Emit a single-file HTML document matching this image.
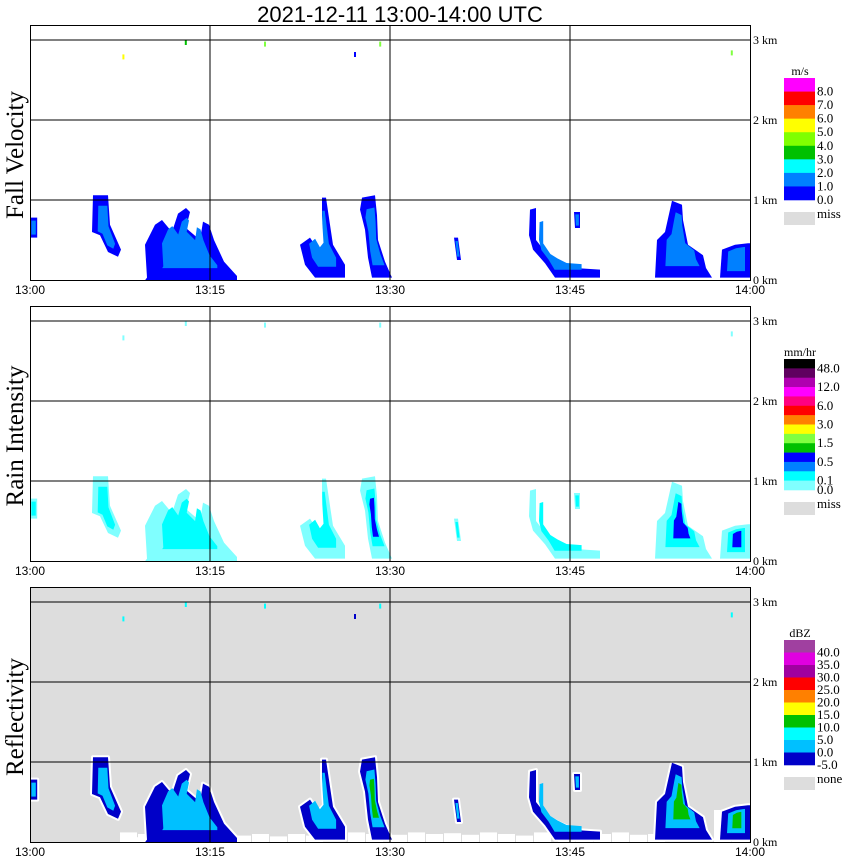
<!DOCTYPE html>
<html><head><meta charset="utf-8">
<style>
html,body{margin:0;padding:0;background:#fff;}
svg{display:block;}
.serif{font-family:"Liberation Serif",serif;}
.sans{font-family:"Liberation Sans",sans-serif;}
</style></head>
<body>
<svg id="chart" width="850" height="868" viewBox="0 0 850 868" xmlns="http://www.w3.org/2000/svg">
<text x="400" y="22" text-anchor="middle" class="sans" font-size="22">2021-12-11   13:00-14:00 UTC</text>
<g id="panels"></g>
</svg>
<script>
// ---- data (minutes after 13:00, height km) ----
const panelTitles = ["Fall Velocity", "Rain Intensity", "Reflectivity"];
const xTickLabels = ["13:00", "13:15", "13:30", "13:45", "14:00"];
const xTickMinutes = [0, 15, 30, 45, 60];
const yTickKm = [0, 1, 2, 3];
const yTickLabels = ["0 km", "1 km", "2 km", "3 km"];
const echoShapes = [
  [[0,0.53],[0.6,0.53],[0.6,0.78],[0,0.78]],
  [[5.25,1.06],[6.5,1.06],[6.67,0.69],[7.58,0.38],[7.33,0.29],[6.5,0.35],[5.83,0.56],[5.17,0.6]],
  [[9.75,0.03],[9.58,0.44],[10.42,0.69],[11,0.75],[11.83,0.6],[12.33,0.83],[13,0.9],[13.33,0.85],[13,0.65],[14.17,0.5],[14.42,0.73],[14.92,0.69],[15.33,0.5],[16.17,0.23],[17.25,0.05],[17.25,0],[9.6,0]],
  [[24.33,1.03],[24.67,1.03],[25,0.69],[25.25,0.44],[26.25,0.19],[26.25,0.03],[23.75,0.03],[22.92,0.19],[22.5,0.44],[23.33,0.53],[24,0.38],[24.5,0.46],[24.33,0.81]],
  [[27.67,1.03],[28.75,1.06],[28.92,0.81],[29,0.5],[29.58,0.23],[30.17,0.03],[28.5,0.03],[28.17,0.28],[27.92,0.63],[27.5,0.88]],
  [[35.33,0.53],[35.67,0.53],[35.92,0.25],[35.58,0.25]],
  [[41.67,0.88],[42.17,0.9],[42.17,0.5],[43.17,0.31],[44.17,0.23],[45.42,0.15],[47.5,0.13],[47.5,0.03],[43.75,0.03],[42.92,0.21],[41.92,0.38],[41.58,0.56]],
  [[45.33,0.85],[45.83,0.85],[45.83,0.65],[45.42,0.65]],
  [[52.08,0.03],[52.25,0.5],[52.92,0.6],[53.33,0.88],[53.5,0.99],[54.33,0.94],[54.42,0.75],[54.83,0.44],[56.08,0.31],[56.33,0.15],[56.83,0.03]],
  [[57.5,0.03],[57.67,0.38],[58.75,0.44],[59.83,0.46],[60,0.46],[60,0.03]]
];
const coreShapes = [8, 9, 4];
const groundMinutes = [7.5, 8.2, 9.0, 10.0, 11.0, 12.5, 14.0, 15.5, 17.0, 18.5, 20.0, 21.5, 23.0, 26.5, 28.0, 30.0, 31.5, 33.0, 34.5, 36.0, 37.5, 39.0, 40.5, 42.0, 44.0, 45.5, 47.0, 48.5, 50.0, 51.5, 57.0, 58.5];
const groundHeights = [0.12, 0.06, 0.1, 0.08, 0.12, 0.1, 0.09, 0.12, 0.08, 0.1, 0.07, 0.1, 0.08, 0.12, 0.1, 0.09, 0.12, 0.1, 0.11, 0.09, 0.12, 0.1, 0.08, 0.12, 0.11, 0.12, 0.1, 0.12, 0.09, 0.1, 0.4, 0.3];
const speckMinutes = [7.7, 12.9, 19.5, 27, 29.1, 58.4];
const speckKm = [2.82, 3.0, 2.98, 2.85, 2.98, 2.87];
const speckColors = [["#ffff00","#80ffff","#00ffff"],["#00c000","#80ffff","#00ffff"],["#80ff40","#80ffff","#00ffff"],["#0000ff","#ffffff","#0000c8"],["#80ff40","#80ffff","#00ffff"],["#80ff40","#80ffff","#00ffff"]];
const legendTitles = ["m/s", "mm/hr", "dBZ"];
const legendColors = [
  ["#ff00ff","#ff0000","#ff8000","#ffff00","#80ff00","#00c000","#00ffff","#0080ff","#0000ff"],
  ["#000000","#600060","#b000b0","#ff00ff","#ff0080","#ff0000","#ff8000","#ffff00","#80ff40","#00c000","#0000ff","#0080ff","#00ffff","#80ffff"],
  ["#a040a0","#e000e0","#a000a0","#ff0000","#ff8000","#ffff00","#00c000","#00ffff","#00c0ff","#0000c8"]
];
const legendLabels = [
  ["8.0","7.0","6.0","5.0","4.0","3.0","2.0","1.0","0.0"],
  ["48.0","","12.0","","6.0","","3.0","","1.5","","0.5","","0.1","0.0"],
  ["40.0","35.0","30.0","25.0","20.0","15.0","10.0","5.0","0.0","-5.0"]
];
const missLabels = ["miss", "miss", "none"];
const panelColors = [["#0000ff","#0080ff","#0080ff"],["#80ffff","#00ffff","#0000ff"],["#0000c8","#00c0ff","#00ffff"]];

// ---- layout ----
const baseY = [280, 561, 842];
const legendTop = [78, 359, 640];
const legendBottom = [200, 490, 765];
const NS = "http://www.w3.org/2000/svg";
const X = m => 30 + 12 * m;
const Y = (km, p) => baseY[p] - 80 * km;
const root = document.getElementById("panels");
function mk(tag, attrs, parent) {
  const e = document.createElementNS(NS, tag);
  for (const k in attrs) e.setAttribute(k, attrs[k]);
  (parent || root).appendChild(e);
  return e;
}
function shrink(pts, f) {
  let cx = 0, cy = 0;
  pts.forEach(q => { cx += q[0]; cy += q[1]; });
  cx /= pts.length; cy /= pts.length;
  return pts.map(q => [cx + (q[0] - cx) * f, Math.max(0.01, cy + (q[1] - cy) * (0.25 + 0.75 * f))]);
}
function poly(pts, p, attrs, parent) {
  const d = pts.map(q => X(q[0]).toFixed(1) + "," + Y(q[1], p).toFixed(1)).join(" ");
  return mk("polygon", Object.assign({points: d}, attrs), parent);
}

for (let p = 0; p < 3; p++) {
  const g = mk("g", {});
  
  
  const top = baseY[p] - 255;
  if (p === 2) {
    const bg = mk("rect", {x: 30, y: top, width: 720, height: 255, fill: "#dddddd"}, g);
    
    
    groundMinutes.forEach((m, i) => {
      const r = mk("rect", {x: X(m), y: Y(groundHeights[i], p), width: 17, height: 80 * groundHeights[i], fill: "#ffffff"}, g);
      
      
    });
  }
  const cols = panelColors[p];
  echoShapes.forEach((s, i) => {
    if (p === 2) {
      const h = poly(s, p, {fill: "#ffffff", stroke: "#ffffff", "stroke-width": 4, "stroke-linejoin": "round"}, g);
      
      
    }
    const o = poly(s, p, {fill: cols[0]}, g);
    
    
    const inn = poly(shrink(s, 0.6), p, {fill: cols[1]}, g);
    
    
    if (p > 0 && coreShapes.includes(i)) {
      const c = poly(shrink(s, 0.3), p, {fill: p === 2 ? "#00c000" : cols[2]}, g);
      
      
    }
  });
  speckMinutes.forEach((m, i) => {
    const r = mk("rect", {x: X(m), y: Y(speckKm[i], p), width: 2, height: 5, fill: speckColors[i][p]}, g);
    
    
  });
  xTickMinutes.slice(1, 4).forEach(m => {
    const l = mk("line", {x1: X(m), x2: X(m), y1: top, y2: baseY[p], stroke: "#000", "stroke-width": 1}, g);
    
    
  });
  yTickKm.slice(1).forEach(k => {
    const l = mk("line", {x1: 30, x2: 750, y1: Y(k, p), y2: Y(k, p), stroke: "#000", "stroke-width": 1}, g);
    
    
  });
  const fr = mk("rect", {x: 30.5, y: top + 0.5, width: 720, height: 255, fill: "none", stroke: "#000", "stroke-width": 1}, g);
  
  
  yTickKm.forEach((k, i) => {
    const t = mk("text", {x: 753, y: Y(k, p) + 4, "font-size": 12, class: "serif"}, g);
    t.textContent = yTickLabels[i];
    
    
  });
  xTickMinutes.forEach((m, i) => {
    const t = mk("text", {x: X(m), y: baseY[p] + 14, "font-size": 12, class: "sans", "text-anchor": "middle"}, g);
    t.textContent = xTickLabels[i];
    
    
  });
  const yt = mk("text", {x: 0, y: 0, "font-size": 25, class: "serif", "text-anchor": "middle", transform: "translate(23," + (baseY[p] - 125) + ") rotate(-90)"}, g);
  yt.textContent = panelTitles[p];
  
  
  const lg = mk("g", {}, g);
  
  
  const lt = mk("text", {x: 800, y: legendTop[p] - 3, "font-size": 12, class: "serif", "text-anchor": "middle"}, lg);
  lt.textContent = legendTitles[p];
  
  
  const n = legendColors[p].length;
  const h = (legendBottom[p] - legendTop[p]) / n;
  legendColors[p].forEach((c, i) => {
    const r = mk("rect", {x: 784, y: legendTop[p] + i * h, width: 31, height: h + 0.3, fill: c}, lg);
    
    
    if (legendLabels[p][i]) {
      const t = mk("text", {x: 817, y: legendTop[p] + (i + 1) * h + 4, "font-size": 13, class: "serif"}, lg);
      t.textContent = legendLabels[p][i];
      
      
    }
  });
  const mb = mk("rect", {x: 784, y: legendBottom[p] + 12, width: 31, height: 13, fill: "#dddddd"}, lg);
  
  
  const mt = mk("text", {x: 817, y: legendBottom[p] + 18, "font-size": 13, class: "serif"}, lg);
  mt.textContent = missLabels[p];
  
  
}
</script>
</body></html>
